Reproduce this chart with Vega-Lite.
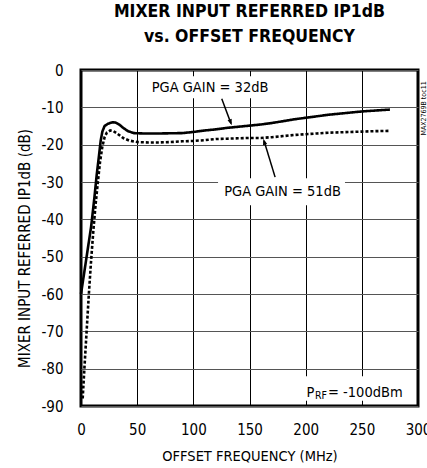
{
  "$schema": "https://vega.github.io/schema/vega-lite/v6.json",
  "autosize": {"type": "none"},
  "padding": {"left": 81, "top": 70, "right": 9, "bottom": 62},
  "width": 337,
  "height": 336,
  "background": "white",
  "title": {
    "text": ["MIXER INPUT REFERRED IP1dB", "vs. OFFSET FREQUENCY"],
    "font": "DejaVu Sans Condensed",
    "fontSize": 17.5,
    "fontWeight": "bold",
    "lineHeight": 25,
    "offset": 18,
    "anchor": "middle",
    "color": "black"
  },
  "data": {
    "values": [
      {"f": 0, "v": -60, "g": "32dB"},
      {"f": 3, "v": -54, "g": "32dB"},
      {"f": 6, "v": -48, "g": "32dB"},
      {"f": 9, "v": -42, "g": "32dB"},
      {"f": 12, "v": -34, "g": "32dB"},
      {"f": 14, "v": -28, "g": "32dB"},
      {"f": 16, "v": -23, "g": "32dB"},
      {"f": 17.5, "v": -19, "g": "32dB"},
      {"f": 19, "v": -16.5, "g": "32dB"},
      {"f": 21, "v": -15, "g": "32dB"},
      {"f": 24, "v": -14.4, "g": "32dB"},
      {"f": 28, "v": -14.0, "g": "32dB"},
      {"f": 31, "v": -14.1, "g": "32dB"},
      {"f": 34, "v": -14.6, "g": "32dB"},
      {"f": 38, "v": -15.6, "g": "32dB"},
      {"f": 42, "v": -16.4, "g": "32dB"},
      {"f": 47, "v": -16.9, "g": "32dB"},
      {"f": 55, "v": -17.0, "g": "32dB"},
      {"f": 70, "v": -17.0, "g": "32dB"},
      {"f": 90, "v": -16.9, "g": "32dB"},
      {"f": 100, "v": -16.6, "g": "32dB"},
      {"f": 110, "v": -16.2, "g": "32dB"},
      {"f": 120, "v": -15.9, "g": "32dB"},
      {"f": 130, "v": -15.5, "g": "32dB"},
      {"f": 140, "v": -15.2, "g": "32dB"},
      {"f": 150, "v": -14.9, "g": "32dB"},
      {"f": 160, "v": -14.6, "g": "32dB"},
      {"f": 170, "v": -14.2, "g": "32dB"},
      {"f": 180, "v": -13.7, "g": "32dB"},
      {"f": 190, "v": -13.2, "g": "32dB"},
      {"f": 200, "v": -12.8, "g": "32dB"},
      {"f": 210, "v": -12.4, "g": "32dB"},
      {"f": 220, "v": -12.0, "g": "32dB"},
      {"f": 230, "v": -11.7, "g": "32dB"},
      {"f": 240, "v": -11.4, "g": "32dB"},
      {"f": 250, "v": -11.1, "g": "32dB"},
      {"f": 260, "v": -10.9, "g": "32dB"},
      {"f": 275, "v": -10.6, "g": "32dB"},
      {"f": 1.5, "v": -88, "g": "51dB"},
      {"f": 3, "v": -80, "g": "51dB"},
      {"f": 5, "v": -70, "g": "51dB"},
      {"f": 7, "v": -60, "g": "51dB"},
      {"f": 9, "v": -51, "g": "51dB"},
      {"f": 11, "v": -43, "g": "51dB"},
      {"f": 13, "v": -36, "g": "51dB"},
      {"f": 15, "v": -30, "g": "51dB"},
      {"f": 17, "v": -24.5, "g": "51dB"},
      {"f": 19, "v": -20.5, "g": "51dB"},
      {"f": 21, "v": -18, "g": "51dB"},
      {"f": 23, "v": -16.8, "g": "51dB"},
      {"f": 26, "v": -16.2, "g": "51dB"},
      {"f": 29, "v": -16.4, "g": "51dB"},
      {"f": 33, "v": -17.2, "g": "51dB"},
      {"f": 38, "v": -18.3, "g": "51dB"},
      {"f": 43, "v": -18.9, "g": "51dB"},
      {"f": 50, "v": -19.3, "g": "51dB"},
      {"f": 60, "v": -19.4, "g": "51dB"},
      {"f": 70, "v": -19.4, "g": "51dB"},
      {"f": 80, "v": -19.3, "g": "51dB"},
      {"f": 90, "v": -19.1, "g": "51dB"},
      {"f": 100, "v": -19.0, "g": "51dB"},
      {"f": 110, "v": -18.8, "g": "51dB"},
      {"f": 120, "v": -18.5, "g": "51dB"},
      {"f": 130, "v": -18.4, "g": "51dB"},
      {"f": 140, "v": -18.3, "g": "51dB"},
      {"f": 150, "v": -18.2, "g": "51dB"},
      {"f": 160, "v": -18.2, "g": "51dB"},
      {"f": 170, "v": -18.0, "g": "51dB"},
      {"f": 180, "v": -17.7, "g": "51dB"},
      {"f": 190, "v": -17.4, "g": "51dB"},
      {"f": 200, "v": -17.2, "g": "51dB"},
      {"f": 210, "v": -17.0, "g": "51dB"},
      {"f": 220, "v": -16.8, "g": "51dB"},
      {"f": 230, "v": -16.7, "g": "51dB"},
      {"f": 240, "v": -16.6, "g": "51dB"},
      {"f": 250, "v": -16.5, "g": "51dB"},
      {"f": 260, "v": -16.4, "g": "51dB"},
      {"f": 275, "v": -16.3, "g": "51dB"}
    ]
  },
  "layer": [
    {
      "mark": {"type": "line", "strokeWidth": 2.6, "color": "black"},
      "encoding": {
        "x": {
          "field": "f", "type": "quantitative",
          "scale": {"domain": [0, 300], "nice": false, "zero": false},
          "axis": {
            "title": "OFFSET FREQUENCY (MHz)",
            "values": [0, 50, 100, 150, 200, 250, 300],
            "tickCount": 7,
            "grid": true, "labelOverlap": false,
            "titleY": 43, "titleBaseline": "top"
          }
        },
        "y": {
          "field": "v", "type": "quantitative",
          "scale": {"domain": [-90, 0], "nice": false, "zero": false},
          "axis": {
            "title": "MIXER INPUT REFERRED IP1dB (dB)",
            "values": [-90, -80, -70, -60, -50, -40, -30, -20, -10, 0],
            "tickCount": 10,
            "labelExpr": "'' + datum.value",
            "grid": true, "labelOverlap": false,
            "titleX": -49, "titleY": 178
          }
        },
        "detail": {"field": "g"},
        "strokeDash": {
          "field": "g", "type": "nominal",
          "scale": {"domain": ["32dB", "51dB"], "range": [[1, 0], [3, 2]]},
          "legend": null
        }
      }
    },
    {
      "data": {"values": [{}]},
      "mark": {"type": "rect", "color": "white"},
      "encoding": {
        "x": {"datum": 61.4}, "x2": {"datum": 168.3},
        "y": {"datum": -1.7}, "y2": {"datum": -7.6}
      }
    },
    {
      "data": {"values": [{}]},
      "mark": {"type": "rect", "color": "white"},
      "encoding": {
        "x": {"datum": 122}, "x2": {"datum": 235},
        "y": {"datum": -29}, "y2": {"datum": -36.2}
      }
    },
    {
      "data": {"values": [{}]},
      "mark": {"type": "rect", "color": "white"},
      "encoding": {
        "x": {"datum": 197.7}, "x2": {"datum": 295.6},
        "y": {"datum": -82}, "y2": {"datum": -88.6}
      }
    },
    {
      "data": {"values": [{}]},
      "mark": {"type": "text", "font": "DejaVu Sans Condensed", "fontSize": 14.5, "align": "center", "baseline": "middle", "color": "black", "text": "PGA GAIN = 32dB"},
      "encoding": {"x": {"datum": 114.9}, "y": {"datum": -4.8}}
    },
    {
      "data": {"values": [{}]},
      "mark": {"type": "text", "font": "DejaVu Sans Condensed", "fontSize": 14.5, "align": "center", "baseline": "middle", "color": "black", "text": "PGA GAIN = 51dB"},
      "encoding": {"x": {"datum": 179.4}, "y": {"datum": -32.7}}
    },
    {
      "data": {"values": [{}]},
      "mark": {"type": "text", "font": "DejaVu Sans Condensed", "fontSize": 14.5, "align": "left", "baseline": "alphabetic", "color": "black", "text": "P"},
      "encoding": {"x": {"datum": 200.7}, "y": {"datum": -87.6}}
    },
    {
      "data": {"values": [{}]},
      "mark": {"type": "text", "font": "DejaVu Sans Condensed", "fontSize": 10.5, "align": "left", "baseline": "alphabetic", "color": "black", "text": "RF"},
      "encoding": {"x": {"datum": 208.3}, "y": {"datum": -88.1}}
    },
    {
      "data": {"values": [{}]},
      "mark": {"type": "text", "font": "DejaVu Sans Condensed", "fontSize": 14.5, "align": "left", "baseline": "alphabetic", "color": "black", "text": "= -100dBm"},
      "encoding": {"x": {"datum": 219.9}, "y": {"datum": -87.6}}
    },
    {
      "data": {"values": [{}]},
      "mark": {"type": "text", "font": "DejaVu Sans Condensed", "fontSize": 7, "align": "center", "baseline": "middle", "angle": 270, "color": "black", "text": "MAX2769B toc11"},
      "encoding": {"x": {"datum": 305.4}, "y": {"datum": -10.3}}
    },
    {
      "data": {"values": [{}]},
      "mark": {"type": "rule", "strokeWidth": 1.5, "color": "black"},
      "encoding": {
        "x": {"datum": 125.3}, "y": {"datum": -7.7},
        "x2": {"datum": 133.5}, "y2": {"datum": -14.3}
      }
    },
    {
      "data": {"values": [{}]},
      "mark": {"type": "rule", "strokeWidth": 1.5, "color": "black"},
      "encoding": {
        "x": {"datum": 172.8}, "y": {"datum": -28.7},
        "x2": {"datum": 163}, "y2": {"datum": -19.0}
      }
    },
    {
      "data": {"values": [{}]},
      "mark": {"type": "point", "shape": "M0,0L-0.36,1L0.36,1Z", "size": 150, "filled": true, "opacity": 1, "color": "black", "angle": 159.5},
      "encoding": {"x": {"datum": 134.2}, "y": {"datum": -14.8}}
    },
    {
      "data": {"values": [{}]},
      "mark": {"type": "point", "shape": "M0,0L-0.36,1L0.36,1Z", "size": 150, "filled": true, "opacity": 1, "color": "black", "angle": 343},
      "encoding": {"x": {"datum": 162.3}, "y": {"datum": -18.4}}
    }
  ],
  "config": {
    "view": {"stroke": "black", "strokeWidth": 3},
    "axis": {
      "domain": false, "ticks": false, "labelFlush": false, "labelOverlap": false,
      "labelFont": "DejaVu Sans Condensed", "labelFontSize": 15, "labelColor": "black",
      "titleFont": "DejaVu Sans Condensed", "titleFontWeight": "normal", "titleColor": "black",
      "gridOpacity": 1
    },
    "axisX": {"grid": true, "gridColor": "black", "gridWidth": 1, "labelPadding": 16, "titleFontSize": 14.5, "tickCount": 7},
    "axisY": {"grid": true, "gridColor": "#555", "gridWidth": 1.2, "labelPadding": 18, "titleFontSize": 15, "tickCount": 10}
  }
}
